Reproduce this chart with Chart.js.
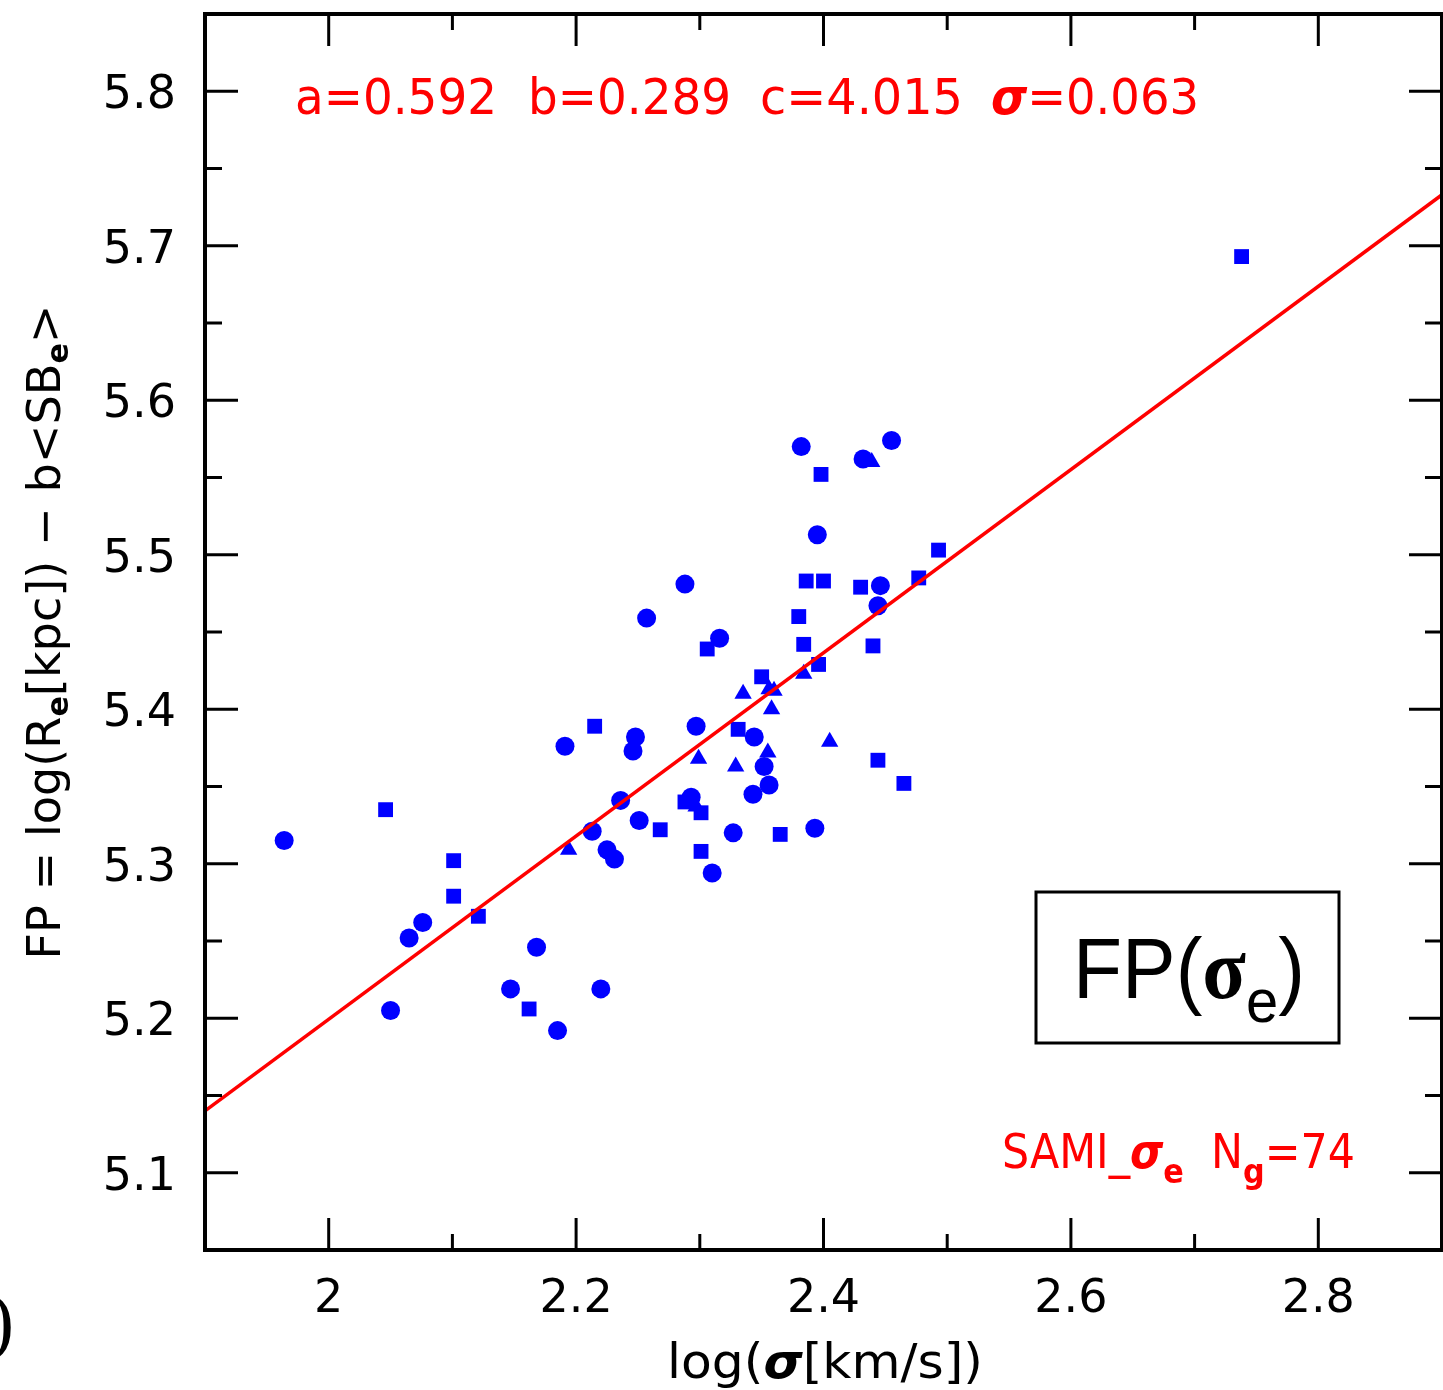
<!DOCTYPE html>
<html>
<head>
<meta charset="utf-8">
<script src="https://cdn.jsdelivr.net/npm/chart.js@4.4.0/dist/chart.umd.min.js"></script>
<style>
  html, body { margin: 0; padding: 0; background: #fff; }
</style>
</head>
<body>
<canvas id="fp-sigma-chart" width="1443" height="1390"></canvas>
<script>
// axis ranges and ticks
const xRange = [1.9, 2.9];
const yRange = [5.05, 5.85];
const xMajorTicks = [2, 2.2, 2.4, 2.6, 2.8];
const xMinorTicks = [2.1, 2.3, 2.5, 2.7];
const xTickLabels = ['2', '2.2', '2.4', '2.6', '2.8'];
const yMajorTicks = [5.1, 5.2, 5.3, 5.4, 5.5, 5.6, 5.7, 5.8];
const yMinorTicks = [5.15, 5.25, 5.35, 5.45, 5.55, 5.65, 5.75];
const yTickLabels = ['5.1', '5.2', '5.3', '5.4', '5.5', '5.6', '5.7', '5.8'];

// galaxies drawn as circles
const circleX = [1.964, 2.050, 2.065, 2.076, 2.168, 2.147, 2.185, 2.220, 2.213, 2.236, 2.251, 2.225,
                 2.231, 2.191, 2.248, 2.246, 2.257, 2.382, 2.455, 2.432, 2.395, 2.288, 2.446, 2.444,
                 2.316, 2.297, 2.344, 2.352, 2.356, 2.343, 2.293, 2.327, 2.393, 2.310];
const circleY = [5.315, 5.205, 5.252, 5.262, 5.246, 5.219, 5.192, 5.219, 5.321, 5.341, 5.328, 5.309,
                 5.303, 5.376, 5.382, 5.373, 5.459, 5.570, 5.574, 5.562, 5.513, 5.481, 5.480, 5.467,
                 5.446, 5.389, 5.382, 5.363, 5.351, 5.345, 5.343, 5.320, 5.323, 5.294];

// galaxies drawn as squares
const squareX = [2.046, 2.101, 2.101, 2.121, 2.162, 2.215, 2.398, 2.386, 2.400, 2.430, 2.493, 2.477,
                 2.380, 2.306, 2.384, 2.440, 2.396, 2.350, 2.331, 2.444, 2.465, 2.288, 2.301, 2.268,
                 2.365, 2.301, 2.738];
const squareY = [5.335, 5.302, 5.279, 5.266, 5.206, 5.389, 5.552, 5.483, 5.483, 5.479, 5.503, 5.485,
                 5.460, 5.439, 5.442, 5.441, 5.429, 5.421, 5.387, 5.367, 5.352, 5.340, 5.333, 5.322,
                 5.319, 5.308, 5.693];

// galaxies drawn as triangles
const triangleX = [2.439, 2.384, 2.335, 2.356, 2.360, 2.358, 2.405, 2.355, 2.329, 2.299, 2.194, 2.297];
const triangleY = [5.560, 5.423, 5.410, 5.413, 5.412, 5.400, 5.379, 5.372, 5.363, 5.368, 5.309, 5.337];

// fitted plane, read at the two frame edges
const fitX = [1.9, 2.9];
const fitY = [5.140, 5.733];

const toPoints = (xs, ys) => xs.map((v, i) => ({ x: v, y: ys[i] }));

const SANS = '"DejaVu Sans"';

// draw a row of text pieces, optionally squeezed to a target width
function drawRuns(ctx, runs, x, y, align, targetW) {
    let w = 0;
    runs.forEach(r => { ctx.font = r.font; r.w = ctx.measureText(r.t).width; w += r.w; });
    const sx = targetW ? targetW / w : 1;
    ctx.save();
    ctx.translate(x, y);
    ctx.scale(sx, 1);
    let cx = align === 'center' ? -w / 2 : align === 'right' ? -w : 0;
    ctx.textAlign = 'left';
    ctx.textBaseline = 'alphabetic';
    runs.forEach(r => {
        ctx.font = r.font;
        ctx.fillText(r.t, cx, r.dy || 0);
        cx += r.w;
    });
    ctx.restore();
}

const whiteBackgroundPlugin = {
    id: 'whiteBackground',
    beforeDraw(chart) {
        const ctx = chart.ctx;
        ctx.save();
        ctx.fillStyle = '#ffffff';
        ctx.fillRect(0, 0, chart.width, chart.height);
        ctx.restore();
    }
};

const framePlugin = {
    id: 'frame',
    afterDraw(chart) {
        const { ctx, chartArea: a, scales: { x, y } } = chart;
        ctx.save();
        ctx.strokeStyle = '#000';
        ctx.lineCap = 'butt';
        ctx.lineWidth = 3;
        const seg = (x1, y1, x2, y2) => { ctx.beginPath(); ctx.moveTo(x1, y1); ctx.lineTo(x2, y2); ctx.stroke(); };
        xMajorTicks.forEach(v => { const p = x.getPixelForValue(v); seg(p, a.bottom, p, a.bottom - 32); seg(p, a.top, p, a.top + 32); });
        xMinorTicks.forEach(v => { const p = x.getPixelForValue(v); seg(p, a.bottom, p, a.bottom - 16); seg(p, a.top, p, a.top + 16); });
        yMajorTicks.forEach(v => { const p = y.getPixelForValue(v); seg(a.left, p, a.left + 33, p); seg(a.right, p, a.right - 33, p); });
        yMinorTicks.forEach(v => { const p = y.getPixelForValue(v); seg(a.left, p, a.left + 17, p); seg(a.right, p, a.right - 17, p); });
        ctx.lineWidth = 4;
        ctx.strokeRect(a.left, a.top, a.right - a.left, a.bottom - a.top);

        // tick labels
        ctx.fillStyle = '#000';
        ctx.font = '46px ' + SANS;
        ctx.textBaseline = 'alphabetic';
        ctx.textAlign = 'center';
        xMajorTicks.forEach((v, i) => ctx.fillText(xTickLabels[i], x.getPixelForValue(v), 1312));
        ctx.textAlign = 'right';
        yMajorTicks.forEach((v, i) => ctx.fillText(yTickLabels[i], 176, y.getPixelForValue(v) + 17));

        // x axis title
        drawRuns(ctx, [
            { t: 'log(', font: '48px ' + SANS },
            { t: 'σ', font: 'italic bold 48px ' + SANS },
            { t: '[km/s])', font: '48px ' + SANS }
        ], 825, 1378, 'center', 316);

        // y axis title
        ctx.save();
        ctx.translate(60, 632);
        ctx.rotate(-Math.PI / 2);
        drawRuns(ctx, [
            { t: 'FP = log(R', font: '46px ' + SANS },
            { t: 'e', font: 'bold 30px ' + SANS, dy: 8 },
            { t: '[kpc]) − b<SB', font: '46px ' + SANS },
            { t: 'e', font: 'bold 30px ' + SANS, dy: 8 },
            { t: '>', font: '46px ' + SANS }
        ], 0, 0, 'center', 655);
        ctx.restore();

        // fit coefficients
        ctx.fillStyle = '#ff0000';
        drawRuns(ctx, [{ t: 'a=0.592', font: '50px ' + SANS }], 295, 114, 'left', 202);
        drawRuns(ctx, [{ t: 'b=0.289', font: '50px ' + SANS }], 528, 114, 'left', 203);
        drawRuns(ctx, [{ t: 'c=4.015', font: '50px ' + SANS }], 760, 114, 'left', 203);
        drawRuns(ctx, [
            { t: 'σ', font: 'italic bold 50px ' + SANS },
            { t: '=0.063', font: '50px ' + SANS }
        ], 991, 114, 'left', 208);

        // sample label
        drawRuns(ctx, [
            { t: 'SAMI_', font: '48px ' + SANS },
            { t: 'σ', font: 'italic bold 48px ' + SANS },
            { t: 'e', font: 'bold 34px ' + SANS, dy: 15 },
            { t: '  N', font: '48px ' + SANS },
            { t: 'g', font: 'bold 34px ' + SANS, dy: 15 },
            { t: '=74', font: '48px ' + SANS }
        ], 1002, 1168, 'left', 353);

        // boxed label
        ctx.strokeStyle = '#000';
        ctx.lineWidth = 3;
        ctx.strokeRect(1036, 892, 303, 151);
        ctx.fillStyle = '#000';
        drawRuns(ctx, [
            { t: 'FP(', font: '86px "Liberation Sans"' },
            { t: 'σ', font: 'bold 86px "Liberation Serif"' },
            { t: 'e', font: '62px "Liberation Sans"', dy: 24 },
            { t: ')', font: '86px "Liberation Sans"' }
        ], 1073, 998, 'left', 232);

        // piece of the neighbouring panel's label
        ctx.font = '76px "Liberation Serif"';
        ctx.textAlign = 'right';
        ctx.fillText(')', 14, 1346);
        ctx.restore();
    }
};

const blue = '#0000ff';
const ctx = document.getElementById('fp-sigma-chart').getContext('2d');
const fpChart = new Chart(ctx, {
    type: 'scatter',
    data: {
        datasets: [{
            type: 'line',
            data: toPoints(fitX, fitY),
            borderColor: '#ff0000',
            borderWidth: 3.5,
            pointRadius: 0,
            fill: false,
            order: 0
        }, {
            data: toPoints(circleX, circleY),
            pointStyle: 'circle',
            pointRadius: 9.5,
            backgroundColor: blue,
            borderWidth: 0,
            order: 1
        }, {
            data: toPoints(squareX, squareY),
            pointStyle: 'rect',
            pointRadius: 10.5,
            backgroundColor: blue,
            borderWidth: 0,
            order: 1
        }, {
            data: toPoints(triangleX, triangleY),
            pointStyle: 'triangle',
            pointRadius: 10,
            backgroundColor: blue,
            borderWidth: 0,
            order: 1
        }]
    },
    options: {
        responsive: false,
        animation: false,
        devicePixelRatio: 1,
        layout: { autoPadding: false, padding: { left: 205, top: 14, right: 1, bottom: 140 } },
        plugins: {
            legend: { display: false },
            tooltip: { enabled: false }
        },
        scales: {
            x: { type: 'linear', min: xRange[0], max: xRange[1], display: false },
            y: { type: 'linear', min: yRange[0], max: yRange[1], display: false }
        }
    },
    plugins: [whiteBackgroundPlugin, framePlugin],
});
</script>
</body>
</html>
